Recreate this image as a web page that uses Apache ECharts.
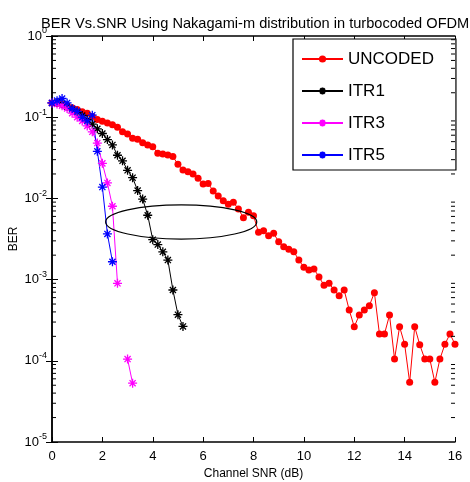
<!DOCTYPE html>
<html><head><meta charset="utf-8">
<script src="https://cdn.jsdelivr.net/npm/echarts@6/dist/echarts.min.js"></script>
<style>html,body{margin:0;padding:0;background:#fff}#c{width:470px;height:482px}</style>
</head><body><div id="c"></div>
<script>
const titleText = 'BER Vs.SNR Using Nakagami-m distribution in turbocoded OFDM';
const xName = 'Channel SNR (dB)';
const yName = 'BER';
const seriesNames = ['UNCODED', 'ITR1', 'ITR3', 'ITR5'];

const uncodedSNR = [0,0.2,0.4,0.6,0.8,1.0,1.2,1.4,1.6,1.8,2.0,2.2,2.4,2.6,2.8,3.0,3.2,3.4,3.6,3.8,4.0,4.2,4.4,4.6,4.8,5.0,5.2,5.4,5.6,5.8,6.0,6.2,6.4,6.6,6.8,7.0,7.2,7.4,7.6,7.8,8.0,8.2,8.4,8.6,8.8,9.0,9.2,9.4,9.6,9.8,10.0,10.2,10.4,10.6,10.8,11.0,11.2,11.4,11.6,11.8,12.0,12.2,12.4,12.6,12.8,13.0,13.2,13.4,13.6,13.8,14.0,14.2,14.4,14.6,14.8,15.0,15.2,15.4,15.6,15.8,16.0];
const uncodedBER = [0.150,0.148,0.143,0.137,0.131,0.124,0.117,0.112,0.102,0.094,0.089,0.085,0.081,0.075,0.0663,0.0621,0.055,0.0535,0.0486,0.0455,0.0433,0.0359,0.0352,0.0342,0.0327,0.0263,0.0224,0.0213,0.0200,0.0177,0.0150,0.0153,0.0123,0.0107,0.00937,0.00845,0.00895,0.00741,0.00579,0.00673,0.00612,0.00382,0.0040,0.00347,0.00371,0.00293,0.00254,0.00236,0.00221,0.00174,0.00142,0.00131,0.00135,0.00108,0.00085,0.00090,0.000744,0.000634,0.000744,0.000422,0.000263,0.000366,0.000422,0.000478,0.00069,0.000214,0.000214,0.000366,0.000105,0.000263,0.00016,0.0000543,0.000263,0.000158,0.000105,0.000105,0.0000543,0.000105,0.00016,0.000214,0.00016];

const itr1SNR = [0,0.2,0.4,0.6,0.8,1.0,1.2,1.4,1.6,1.8,2.0,2.2,2.4,2.6,2.8,3.0,3.2,3.4,3.6,3.8,4.0,4.2,4.4,4.6,4.8,5.0,5.2];
const itr1BER = [0.150,0.152,0.145,0.135,0.125,0.115,0.105,0.093,0.082,0.072,0.063,0.053,0.0455,0.034,0.029,0.0222,0.018,0.0125,0.0098,0.0062,0.0031,0.0027,0.0022,0.00174,0.000745,0.00037,0.000265];

const itr3SNR = [0,0.2,0.4,0.6,0.8,1.0,1.2,1.4,1.6,1.8,2.0,2.2,2.4,2.6,2.8,3.0,3.2];
const itr3BER = [0.150,0.145,0.138,0.128,0.112,0.100,0.090,0.078,0.066,0.048,0.027,0.0155,0.0080,0.0009,null,0.000105,0.000053];

const itr5SNR = [0,0.2,0.4,0.6,0.8,1.0,1.2,1.4,1.6,1.8,2.0,2.2,2.4];
const itr5BER = [0.150,0.160,0.170,0.150,0.128,0.118,0.100,0.090,0.106,0.038,0.0138,0.00365,0.00166];

// annotation ellipse, in data units: left/right SNR and bottom/top BER
const ellipseSNR = [2.13, 8.13];
const ellipseBER = [0.00316, 0.0083];

const minorMantissas = [2,3,4,5,6,7,8,9];
const minorDecades = [-5,-4,-3,-2,-1];

const FONT = '"Liberation Sans",Arial,sans-serif';
const star = 'path://M0,5L10,5M5,0L5,10M1.6,1.6L8.4,8.4M8.4,1.6L1.6,8.4';

function pairs(xs, ys) { return xs.map((x, i) => [x, ys[i]]); }

const chart = echarts.init(document.getElementById('c'), null, {renderer: 'canvas'});

const axisLineStyle = {color: '#000', width: 1.5};
const yLabelFmt = v => {
  const e = Math.round(Math.log10(v));
  return '{b|10}{e|' + e + '}';
};
const yRich = {
  b: {fontSize: 13, fontFamily: FONT, color: '#000'},
  e: {fontSize: 9, fontFamily: FONT, color: '#000', padding: [0, 0, 10, 0]}
};

function starSeries(name, xs, ys, color) {
  return {
    name, type: 'line', data: pairs(xs, ys),
    symbol: star, symbolSize: 9,
    lineStyle: {color, width: 1},
    itemStyle: {color, borderColor: color, borderWidth: 1.3},
    showSymbol: true, animation: false
  };
}

const option = {
  animation: false,
  backgroundColor: '#fff',
  title: {
    text: titleText, left: 36, top: 11,
    textStyle: {fontFamily: FONT, fontSize: 14.6, fontWeight: 'normal', color: '#000'}
  },
  grid: {left: 52, right: 15, top: 36, bottom: 40, containLabel: false, outerBoundsMode: 'none'},
  legend: {
    data: seriesNames, orient: 'vertical', left: 293, top: 39,
    itemWidth: 41, itemHeight: 9, itemGap: 14,
    padding: [11, 22, 6, 8],
    borderColor: '#000', borderWidth: 1.2, backgroundColor: '#fff',
    textStyle: {fontFamily: FONT, fontSize: 17, color: '#000', lineHeight: 18}
  },
  xAxis: [
    {type: 'value', min: 0, max: 16, interval: 2, position: 'bottom',
     axisLine: {lineStyle: axisLineStyle}, splitLine: {show: false},
     axisTick: {inside: true, length: 5, lineStyle: {color: '#000'}},
     axisLabel: {color: '#000', fontSize: 13, fontFamily: FONT, margin: 8},
     name: xName, nameLocation: 'middle', nameGap: 25,
     nameTextStyle: {color: '#000', fontSize: 12, fontFamily: FONT}},
    {type: 'value', min: 0, max: 16, interval: 2, position: 'top',
     axisLine: {lineStyle: axisLineStyle}, splitLine: {show: false},
     axisTick: {inside: true, length: 5, lineStyle: {color: '#000'}},
     axisLabel: {show: false}}
  ],
  yAxis: [
    {type: 'log', logBase: 10, min: 1e-5, max: 1, position: 'left',
     axisLine: {lineStyle: axisLineStyle}, splitLine: {show: false},
     axisTick: {inside: true, length: 6, lineStyle: {color: '#000'}},
     axisLabel: {formatter: yLabelFmt, rich: yRich, margin: 5}},
    {type: 'log', logBase: 10, min: 1e-5, max: 1, position: 'right',
     axisLine: {lineStyle: axisLineStyle}, splitLine: {show: false},
     axisTick: {inside: true, length: 6, lineStyle: {color: '#000'}},
     axisLabel: {show: false}}
  ],
  series: [
    {name: 'UNCODED', type: 'line', data: pairs(uncodedSNR, uncodedBER),
     symbol: 'circle', symbolSize: 7,
     lineStyle: {color: '#ff0000', width: 1}, itemStyle: {color: '#ff0000'}},
    starSeries('ITR1', itr1SNR, itr1BER, '#000000'),
    starSeries('ITR3', itr3SNR, itr3BER, '#ff00ff'),
    starSeries('ITR5', itr5SNR, itr5BER, '#0000ff')
  ]
};
chart.setOption(option);

// minor log ticks, y-axis name and ellipse placed through the axis scales
const gfx = [];
const xl = chart.convertToPixel({xAxisIndex: 0}, 0);
const xr = chart.convertToPixel({xAxisIndex: 0}, 16);
minorDecades.forEach(d => minorMantissas.forEach(m => {
  const y = chart.convertToPixel({yAxisIndex: 0}, m * Math.pow(10, d));
  gfx.push({type: 'line', shape: {x1: xl, y1: y, x2: xl + 4, y2: y}, style: {stroke: '#000', lineWidth: 1}, z: 10});
  gfx.push({type: 'line', shape: {x1: xr, y1: y, x2: xr - 4, y2: y}, style: {stroke: '#000', lineWidth: 1}, z: 10});
}));
const yTop = chart.convertToPixel({yAxisIndex: 0}, 1);
const yBot = chart.convertToPixel({yAxisIndex: 0}, 1e-5);
gfx.push({type: 'text', x: xl - 38, y: (yTop + yBot) / 2, rotation: Math.PI / 2,
  style: {text: yName, fill: '#000', font: '12px ' + FONT, align: 'center', verticalAlign: 'middle'}});
const exL = chart.convertToPixel({xAxisIndex: 0}, ellipseSNR[0]);
const exR = chart.convertToPixel({xAxisIndex: 0}, ellipseSNR[1]);
const eyB = chart.convertToPixel({yAxisIndex: 0}, ellipseBER[0]);
const eyT = chart.convertToPixel({yAxisIndex: 0}, ellipseBER[1]);
gfx.push({type: 'ellipse', shape: {cx: (exL + exR) / 2, cy: (eyB + eyT) / 2, rx: (exR - exL) / 2, ry: Math.abs(eyB - eyT) / 2},
  style: {fill: 'none', stroke: '#000', lineWidth: 1.2}, z: 5});
chart.setOption({graphic: gfx});
</script></body></html>
